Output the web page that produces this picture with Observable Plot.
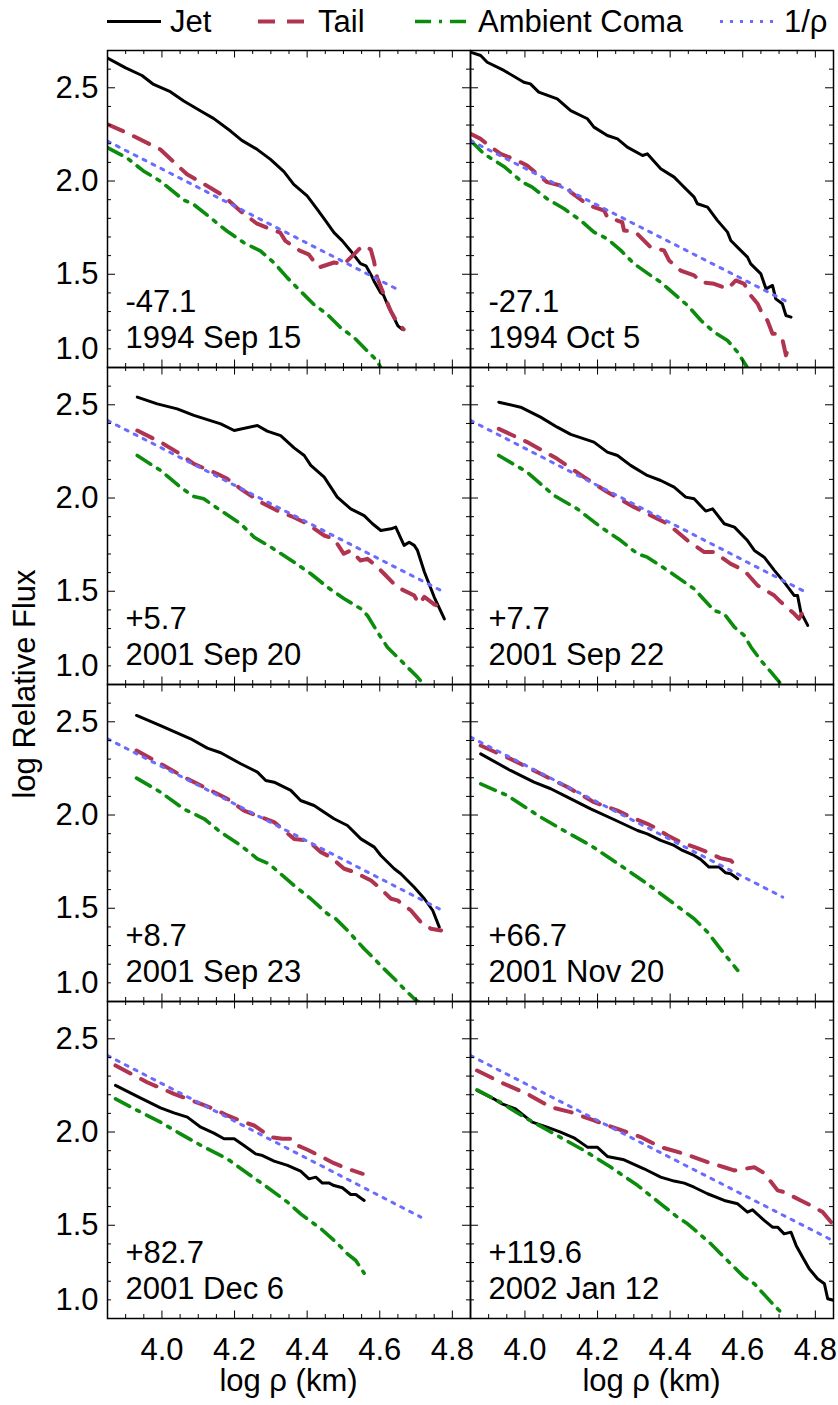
<!DOCTYPE html>
<html><head><meta charset="utf-8">
<script src="https://cdn.jsdelivr.net/npm/d3@7"></script>
<script src="https://cdn.jsdelivr.net/npm/@observablehq/plot@0.6"></script>
<style>
body{margin:0;background:#fff;}
#wrap{position:relative;width:838px;height:1405px;font-family:"Liberation Sans",Arial,sans-serif;}
#chart{position:absolute;left:0;top:45px;}
#overlay{position:absolute;left:0;top:0;pointer-events:none;}
</style></head><body>
<div id="wrap"><div id="chart"></div><svg id="overlay" width="838" height="1405"></svg></div>
<script>
// ---- categories / labels ----
const phases = ["-47.1","-27.1","+5.7","+7.7","+8.7","+66.7","+82.7","+119.6"];
const dates = ["1994 Sep 15","1994 Oct 5","2001 Sep 20","2001 Sep 22","2001 Sep 23","2001 Nov 20","2001 Dec 6","2002 Jan 12"];
const seriesNames = ["Jet","Tail","Ambient Coma","1/\u03c1"];
const xMajor = [4.0,4.2,4.4,4.6,4.8];
const xTickLabels = ["4.0","4.2","4.4","4.6","4.8"];
const xMinor = [3.90,3.95,4.05,4.10,4.15,4.25,4.30,4.35,4.45,4.50,4.55,4.65,4.70,4.75];
const yMajor = [1.0,1.5,2.0,2.5];
const yTickLabels = ["1.0","1.5","2.0","2.5"];
const yMinor = [1.1,1.2,1.3,1.4,1.6,1.7,1.8,1.9,2.1,2.2,2.3,2.4,2.6];

// ---- series values, one list of [log rho, log flux] per panel ----
const jet = [
 [[3.85,2.66],[3.90,2.607],[3.945,2.566],[3.977,2.518],[4.023,2.479],[4.06,2.429],[4.115,2.366],[4.142,2.336],[4.189,2.268],[4.22,2.218],[4.262,2.17],[4.299,2.116],[4.336,2.05],[4.363,1.982],[4.40,1.92],[4.428,1.848],[4.451,1.786],[4.474,1.723],[4.497,1.679],[4.52,1.625],[4.547,1.557],[4.562,1.545],[4.57,1.518],[4.578,1.49],[4.584,1.464],[4.602,1.402],[4.61,1.39],[4.625,1.321],[4.639,1.268],[4.65,1.223],[4.662,1.205]],
 [[3.85,2.691],[3.878,2.673],[3.896,2.637],[3.942,2.593],[3.997,2.53],[4.015,2.521],[4.038,2.477],[4.089,2.441],[4.126,2.378],[4.172,2.334],[4.19,2.289],[4.227,2.244],[4.255,2.226],[4.282,2.182],[4.324,2.137],[4.337,2.146],[4.374,2.066],[4.411,2.021],[4.429,1.985],[4.466,1.914],[4.475,1.878],[4.503,1.86],[4.53,1.789],[4.558,1.726],[4.567,1.681],[4.59,1.636],[4.613,1.592],[4.622,1.556],[4.65,1.502],[4.664,1.422],[4.682,1.44],[4.691,1.368],[4.709,1.342],[4.719,1.279],[4.733,1.27]],
 [[3.932,2.541],[3.987,2.505],[4.042,2.478],[4.088,2.443],[4.162,2.398],[4.199,2.362],[4.263,2.389],[4.29,2.359],[4.327,2.335],[4.364,2.269],[4.392,2.228],[4.41,2.175],[4.447,2.112],[4.483,2.005],[4.52,1.942],[4.557,1.906],[4.58,1.862],[4.603,1.826],[4.631,1.835],[4.644,1.844],[4.667,1.746],[4.681,1.763],[4.695,1.746],[4.704,1.719],[4.723,1.603],[4.75,1.469],[4.778,1.352]],
 [[3.928,2.514],[3.988,2.487],[4.043,2.434],[4.089,2.38],[4.126,2.341],[4.19,2.3],[4.227,2.246],[4.255,2.228],[4.291,2.175],[4.337,2.121],[4.374,2.094],[4.411,2.058],[4.443,2.005],[4.466,1.996],[4.498,1.93],[4.517,1.942],[4.549,1.862],[4.577,1.844],[4.613,1.772],[4.632,1.719],[4.659,1.683],[4.687,1.612],[4.714,1.549],[4.742,1.477],[4.751,1.477],[4.76,1.388],[4.779,1.317]],
 [[3.93,2.534],[3.996,2.48],[4.079,2.409],[4.125,2.359],[4.162,2.334],[4.217,2.275],[4.263,2.23],[4.286,2.185],[4.309,2.176],[4.355,2.132],[4.382,2.078],[4.419,2.051],[4.474,1.98],[4.511,1.944],[4.548,1.872],[4.585,1.828],[4.603,1.783],[4.64,1.712],[4.658,1.685],[4.695,1.613],[4.723,1.551],[4.746,1.488],[4.764,1.399]],
 [[3.878,2.328],[3.96,2.239],[4.025,2.176],[4.071,2.141],[4.117,2.096],[4.181,2.033],[4.245,1.976],[4.31,1.917],[4.337,1.899],[4.374,1.864],[4.411,1.837],[4.434,1.81],[4.466,1.783],[4.484,1.762],[4.507,1.721],[4.535,1.721],[4.553,1.69],[4.567,1.685],[4.586,1.658]],
 [[3.872,2.25],[3.932,2.191],[3.996,2.13],[4.033,2.103],[4.07,2.08],[4.107,2.026],[4.143,1.994],[4.171,1.964],[4.199,1.964],[4.226,1.928],[4.258,1.883],[4.277,1.874],[4.309,1.844],[4.346,1.821],[4.382,1.79],[4.405,1.749],[4.424,1.758],[4.442,1.726],[4.461,1.726],[4.474,1.713],[4.497,1.701],[4.52,1.665],[4.534,1.665],[4.557,1.633]],
 [[3.868,2.223],[3.914,2.178],[3.937,2.151],[3.974,2.124],[4.02,2.053],[4.061,2.026],[4.098,1.999],[4.135,1.969],[4.172,1.919],[4.199,1.919],[4.227,1.869],[4.273,1.851],[4.328,1.803],[4.374,1.758],[4.411,1.737],[4.439,1.726],[4.466,1.704],[4.503,1.669],[4.549,1.633],[4.586,1.615],[4.613,1.57],[4.627,1.583],[4.659,1.526],[4.682,1.49],[4.696,1.49],[4.714,1.454],[4.733,1.463],[4.747,1.392],[4.765,1.329],[4.783,1.267],[4.806,1.213],[4.825,1.186],[4.834,1.106],[4.852,1.097]]
];
const tail = [
 [[3.85,2.304],[3.903,2.259],[3.995,2.17],[4.069,2.036],[4.133,1.964],[4.17,1.92],[4.216,1.839],[4.262,1.771],[4.289,1.75],[4.326,1.723],[4.34,1.679],[4.381,1.625],[4.404,1.607],[4.432,1.536],[4.474,1.563],[4.501,1.554],[4.529,1.607],[4.552,1.652],[4.575,1.634],[4.584,1.571],[4.593,1.482],[4.611,1.393],[4.63,1.304],[4.648,1.241],[4.666,1.205]],
 [[3.85,2.253],[3.878,2.226],[3.906,2.182],[3.933,2.146],[3.979,2.11],[4.006,2.083],[4.061,1.994],[4.117,1.967],[4.126,1.94],[4.163,1.887],[4.19,1.86],[4.218,1.842],[4.227,1.806],[4.268,1.779],[4.273,1.735],[4.305,1.726],[4.346,1.645],[4.383,1.628],[4.397,1.574],[4.429,1.52],[4.466,1.494],[4.485,1.458],[4.521,1.449],[4.558,1.422],[4.581,1.467],[4.604,1.449],[4.622,1.386],[4.641,1.342],[4.654,1.288],[4.668,1.252],[4.682,1.181],[4.696,1.181],[4.71,1.145],[4.719,1.065],[4.728,1.118]],
 [[3.932,2.362],[3.996,2.3],[4.042,2.246],[4.088,2.183],[4.152,2.13],[4.18,2.103],[4.217,2.049],[4.272,1.978],[4.317,1.933],[4.363,1.897],[4.4,1.862],[4.447,1.799],[4.474,1.781],[4.501,1.701],[4.52,1.719],[4.547,1.665],[4.566,1.674],[4.589,1.638],[4.612,1.594],[4.648,1.522],[4.695,1.477],[4.708,1.433],[4.723,1.47],[4.75,1.43],[4.778,1.406]],
 [[3.928,2.371],[4.006,2.3],[4.089,2.21],[4.163,2.112],[4.227,2.032],[4.301,1.951],[4.393,1.862],[4.448,1.772],[4.494,1.71],[4.521,1.71],[4.567,1.647],[4.604,1.612],[4.641,1.531],[4.687,1.477],[4.705,1.442],[4.742,1.379],[4.755,1.352],[4.765,1.388]],
 [[3.93,2.346],[3.996,2.275],[4.07,2.194],[4.125,2.141],[4.18,2.087],[4.226,2.024],[4.272,1.989],[4.309,1.962],[4.364,1.872],[4.401,1.864],[4.438,1.801],[4.465,1.774],[4.502,1.712],[4.53,1.694],[4.576,1.649],[4.603,1.604],[4.631,1.551],[4.649,1.542],[4.686,1.488],[4.713,1.426],[4.741,1.39],[4.769,1.381]],
 [[3.878,2.373],[3.96,2.301],[4.043,2.221],[4.117,2.15],[4.19,2.069],[4.255,2.024],[4.291,1.989],[4.337,1.953],[4.356,1.935],[4.393,1.89],[4.429,1.855],[4.475,1.822],[4.503,1.801],[4.538,1.769],[4.567,1.756],[4.586,1.721]],
 [[3.872,2.357],[3.959,2.267],[4.033,2.205],[4.107,2.151],[4.143,2.124],[4.18,2.089],[4.226,2.053],[4.254,2.035],[4.3,1.973],[4.332,1.964],[4.355,1.964],[4.373,1.928],[4.401,1.905],[4.438,1.869],[4.474,1.833],[4.511,1.803],[4.553,1.776]],
 [[3.868,2.33],[3.933,2.267],[4.006,2.205],[4.071,2.133],[4.126,2.107],[4.19,2.062],[4.255,2.017],[4.319,1.973],[4.374,1.919],[4.439,1.883],[4.503,1.839],[4.549,1.811],[4.576,1.794],[4.632,1.811],[4.659,1.78],[4.696,1.687],[4.714,1.678],[4.76,1.633],[4.788,1.606],[4.82,1.571],[4.843,1.517]]
];
const coma = [
 [[3.85,2.179],[3.903,2.125],[3.949,2.054],[3.995,2.0],[4.06,1.898],[4.087,1.875],[4.133,1.804],[4.179,1.732],[4.225,1.67],[4.271,1.625],[4.308,1.563],[4.345,1.482],[4.381,1.411],[4.418,1.339],[4.455,1.286],[4.492,1.214],[4.529,1.161],[4.561,1.098],[4.593,1.036],[4.605,0.99]],
 [[3.85,2.217],[3.887,2.146],[3.942,2.078],[3.993,1.994],[4.02,1.967],[4.061,1.905],[4.108,1.851],[4.153,1.789],[4.19,1.726],[4.227,1.69],[4.264,1.628],[4.301,1.556],[4.346,1.494],[4.374,1.458],[4.411,1.395],[4.448,1.333],[4.485,1.252],[4.521,1.19],[4.558,1.145],[4.586,1.082],[4.609,1.011],[4.615,0.99]],
 [[3.932,2.228],[3.996,2.148],[4.051,2.058],[4.088,2.008],[4.115,1.996],[4.162,1.933],[4.217,1.862],[4.254,1.79],[4.3,1.737],[4.364,1.656],[4.41,1.594],[4.456,1.522],[4.502,1.46],[4.548,1.406],[4.566,1.37],[4.594,1.281],[4.621,1.2],[4.658,1.129],[4.681,1.084],[4.704,1.04],[4.723,0.995]],
 [[3.928,2.228],[4.006,2.139],[4.08,2.014],[4.144,1.942],[4.209,1.844],[4.264,1.772],[4.31,1.701],[4.337,1.683],[4.393,1.612],[4.466,1.513],[4.521,1.397],[4.549,1.379],[4.577,1.308],[4.604,1.263],[4.623,1.2],[4.65,1.129],[4.678,1.066],[4.701,1.013],[4.71,0.98]],
 [[3.93,2.198],[3.996,2.123],[4.06,2.033],[4.116,1.98],[4.162,1.908],[4.217,1.837],[4.263,1.765],[4.295,1.738],[4.364,1.622],[4.41,1.551],[4.456,1.47],[4.479,1.443],[4.511,1.381],[4.557,1.283],[4.594,1.211],[4.612,1.175],[4.64,1.122],[4.667,1.068],[4.695,1.015],[4.713,0.988]],
 [[3.878,2.167],[3.951,2.105],[4.043,1.989],[4.107,1.917],[4.181,1.837],[4.264,1.729],[4.337,1.631],[4.411,1.524],[4.466,1.444],[4.503,1.372],[4.549,1.256],[4.586,1.167]],
 [[3.872,2.178],[3.932,2.116],[3.996,2.053],[4.051,1.99],[4.116,1.919],[4.18,1.856],[4.244,1.767],[4.29,1.704],[4.346,1.624],[4.382,1.561],[4.438,1.481],[4.484,1.401],[4.511,1.347],[4.534,1.311],[4.557,1.243]],
 [[3.868,2.226],[3.924,2.169],[4.006,2.071],[4.089,1.981],[4.163,1.901],[4.236,1.812],[4.31,1.714],[4.374,1.615],[4.42,1.544],[4.448,1.508],[4.512,1.401],[4.567,1.293],[4.604,1.222],[4.632,1.186],[4.678,1.088],[4.714,1.016]]
];
const invRho = [
 [[3.85,2.214],[4.657,1.411]],
 [[3.85,2.217],[4.733,1.342]],
 [[3.85,2.416],[4.769,1.504]],
 [[3.85,2.416],[4.765,1.504]],
 [[3.85,2.409],[4.764,1.497]],
 [[3.85,2.418],[4.71,1.56]],
 [[3.85,2.41],[4.713,1.544]],
 [[3.85,2.41],[4.848,1.418]]
];

// ---- styles ----
const FONT = "Liberation Sans, Arial, Helvetica, sans-serif";
const FS = 31;
const styles = [
  {stroke: "#000000", strokeWidth: 3, dash: null},
  {stroke: "#b0344f", strokeWidth: 4, dash: "17,12"},
  {stroke: "#0c8c0c", strokeWidth: 3.6, dash: "16,8,3,8"},
  {stroke: "#6b6bff", strokeWidth: 3, dash: "3,7"}
];
const PW = 363, PH = 317;

// ---- tables built from the arrays ----
const toRows = (series) => series.flatMap((pts, i) =>
  pts.map(([x, y]) => ({panel: i, col: i % 2, row: Math.floor(i / 2), x, y})));
const seriesRows = [jet, tail, coma, invRho].map(toRows);
const annRows = phases.map((p, i) => ({col: i % 2, row: Math.floor(i / 2), phase: p, date: dates[i]}));
const yLabelRows = [0, 1, 2, 3].flatMap(row => yMajor.map((v, j) => ({col: 0, row, v, label: yTickLabels[j]})));
const xLabelRows = [0, 1].flatMap(col => xMajor.map((v, j) => ({col, row: 3, v, label: xTickLabels[j]})));

const lineMarks = seriesRows.map((rows, k) => Plot.line(rows, {
  x: "x", y: "y", z: "panel", fx: "col", fy: "row",
  stroke: styles[k].stroke, strokeWidth: styles[k].strokeWidth,
  strokeDasharray: styles[k].dash, strokeLinejoin: "round", clip: true
}));

const plot = Plot.plot({
  width: 838, height: 1360,
  marginLeft: 107, marginRight: 5, marginTop: 5, marginBottom: 87,
  x: {domain: [3.85, 4.85], axis: null},
  y: {domain: [1.0, 2.7], axis: null},
  fx: {axis: null, padding: 0},
  fy: {axis: null, padding: 0},
  style: {fontFamily: FONT, background: "white", overflow: "visible"},
  marks: [
    ...lineMarks,
    Plot.frame({stroke: "black", strokeWidth: 1.5}),
    // inward ticks on all four sides
    Plot.tickX(xMajor, {x: d => d, insetTop: PH - 7.5, stroke: "black", strokeWidth: 1}),
    Plot.tickX(xMajor, {x: d => d, insetBottom: PH - 7.5, stroke: "black", strokeWidth: 1}),
    Plot.tickX(xMinor, {x: d => d, insetTop: PH - 4, stroke: "black", strokeWidth: 1}),
    Plot.tickX(xMinor, {x: d => d, insetBottom: PH - 4, stroke: "black", strokeWidth: 1}),
    Plot.tickY(yMajor, {y: d => d, insetRight: PW - 8, stroke: "black", strokeWidth: 1}),
    Plot.tickY(yMajor, {y: d => d, insetLeft: PW - 8, stroke: "black", strokeWidth: 1}),
    Plot.tickY(yMinor, {y: d => d, insetRight: PW - 4, stroke: "black", strokeWidth: 1}),
    Plot.tickY(yMinor, {y: d => d, insetLeft: PW - 4, stroke: "black", strokeWidth: 1}),
    // y tick labels (left column)
    Plot.text(yLabelRows.filter(d => d.v !== 1.0), {y: "v", fx: "col", fy: "row", text: "label",
      frameAnchor: "left", textAnchor: "end", dx: -9, lineAnchor: "middle", fontSize: FS, fill: "black"}),
    Plot.text(yLabelRows.filter(d => d.v === 1.0), {y: "v", fx: "col", fy: "row", text: "label",
      frameAnchor: "left", textAnchor: "end", dx: -9, dy: -18, lineAnchor: "middle", fontSize: FS, fill: "black"}),
    // x tick labels (bottom row)
    Plot.text(xLabelRows, {x: "v", fx: "col", fy: "row", text: "label",
      frameAnchor: "bottom", textAnchor: "middle", lineAnchor: "top", dy: 19, fontSize: FS, fill: "black"}),
    // panel annotations
    Plot.text(annRows, {fx: "col", fy: "row", text: "phase", frameAnchor: "bottom-left",
      textAnchor: "start", lineAnchor: "bottom", dx: 18, dy: -56, fontSize: FS, fill: "black"}),
    Plot.text(annRows, {fx: "col", fy: "row", text: "date", frameAnchor: "bottom-left",
      textAnchor: "start", lineAnchor: "bottom", dx: 18, dy: -20, fontSize: FS, fill: "black"})
  ]
});
document.getElementById("chart").appendChild(plot);

// ---- legend and axis titles ----
const ov = d3.select("#overlay");
const legendPos = [
  {x1: 107, x2: 161, tx: 170},
  {x1: 258, x2: 308, tx: 318},
  {x1: 415, x2: 466, tx: 478},
  {x1: 720, x2: 779, tx: 784}
];
seriesNames.forEach((name, k) => {
  const p = legendPos[k], s = styles[k];
  ov.append("line").attr("x1", p.x1).attr("x2", p.x2).attr("y1", 21.5).attr("y2", 21.5)
    .attr("stroke", s.stroke).attr("stroke-width", s.strokeWidth)
    .attr("stroke-dasharray", s.dash);
  ov.append("text").attr("x", p.tx).attr("y", 31.5).attr("font-family", FONT)
    .attr("font-size", FS).attr("fill", "black").text(name);
});
ov.append("text").attr("transform", "translate(35,684) rotate(-90)")
  .attr("text-anchor", "middle").attr("font-family", FONT).attr("font-size", FS)
  .text("log Relative Flux");
[288.5, 651.5].forEach(cx => {
  ov.append("text").attr("x", cx).attr("y", 1391).attr("text-anchor", "middle")
    .attr("font-family", FONT).attr("font-size", FS).text("log \u03c1 (km)");
});
</script>
</body></html>
